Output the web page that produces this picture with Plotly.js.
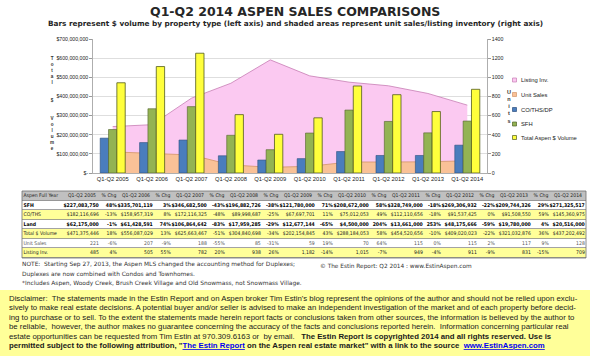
<!DOCTYPE html>
<html><head><meta charset="utf-8">
<script src="https://cdn.plot.ly/plotly-3.0.1.min.js"></script>
<style>html,body{margin:0;padding:0;background:#fff}#chart{width:590px;height:356px}</style>
</head><body><div id="chart"></div>
<script>
const categories = ['Q1-Q2 2005','Q1-Q2 2006','Q1-Q2 2007','Q1-Q2 2008','Q1-Q2 2009','Q1-Q2 2010','Q1-Q2 2011','Q1-Q2 2012','Q1-Q2 2013','Q1-Q2 2014'];
const sfh = [227083750, 335701119, 346682500, 196882726, 121780000, 208672000, 328749000, 269306932, 209744326, 271325517];
const coths = [182116696, 158957319, 172116325, 89998687, 67697701, 75012053, 112110656, 91537425, 91508550, 145360975];
const land = [62175000, 61428591, 106864642, 17959285, 12677144, 4500000, 13661000, 48175666, 19780000, 20516000];
const totalVol = [471375446, 556087029, 625663467, 304840698, 202154845, 288184053, 454520656, 409020023, 321032876, 437202492];
const unitSales = [221, 207, 188, 85, 59, 70, 115, 115, 117, 128];
const listingInv = [485, 505, 782, 938, 1182, 1015, 949, 911, 831, 709];
const sfhChg = ['48%','3%','-43%','-38%','71%','58%','-18%','-22%','29%'];
const cothsChg = ['-13%','8%','-48%','-25%','11%','49%','-18%','0%','59%'];
const landChg = ['-1%','74%','-83%','-29%','-65%','204%','253%','-59%','4%'];
const totalChg = ['18%','13%','-51%','-34%','43%','58%','-10%','-22%','36%'];
const unitChg = ['-6%','-9%','-55%','-31%','19%','64%','0%','2%','9%'];
const listChg = ['4%','55%','20%','26%','-14%','-7%','-4%','-9%','-15%'];
const rowLabels = ['SFH','CO/THS','Land','Total $ Volume','Unit Sales','Listing Inv.'];
const tableCorner = 'Aspen Full Year';
const chgHeader = '% Chg';
const leftTickVals = [0,100e6,200e6,300e6,400e6,500e6,600e6,700e6];
const leftTickText = ['$-','$100,000,000','$200,000,000','$300,000,000','$400,000,000','$500,000,000','$600,000,000','$700,000,000'];
const rightTickVals = [0,200,400,600,800,1000,1200,1400];
const legendLabels = ['Listing Inv.','Unit Sales','CO/THS/DP','SFH','Total Aspen $ Volume'];

const W = 590, H = 356;
const px = x => x / W, py = y => 1 - y / H;
const money = v => '$' + v.toLocaleString('en-US');
const num = v => v.toLocaleString('en-US');

const C = {
  pink: '#fbc9f1', pinkLine: '#c77db4',
  peach: '#f9c197', peachLine: '#d39468',
  blue: '#4a7dbd', blueLine: '#2b4f7e',
  green: '#93b353', greenLine: '#4f6228',
  yellow: '#ffff3c', yellowLine: '#505a1c'
};

const traces = [
  {type:'scatter', x:categories, y:listingInv, name:'Listing Inv.', mode:'lines', fill:'tozeroy',
   fillcolor:C.pink, line:{color:C.pinkLine, width:0.8}, xaxis:'x', yaxis:'y', hoverinfo:'skip'},
  {type:'scatter', x:categories, y:unitSales, name:'Unit Sales', mode:'lines', fill:'tozeroy',
   fillcolor:C.peach, line:{color:C.peachLine, width:0.8}, xaxis:'x', yaxis:'y', hoverinfo:'skip'},
  {type:'bar', x:categories, y:coths, name:'CO/THS/DP', marker:{color:C.blue, line:{color:C.blueLine, width:0.6}}, xaxis:'x', yaxis:'y2'},
  {type:'bar', x:categories, y:sfh, name:'SFH', marker:{color:C.green, line:{color:C.greenLine, width:0.6}}, xaxis:'x', yaxis:'y2'},
  {type:'bar', x:categories, y:totalVol, name:'Total Aspen $ Volume', marker:{color:C.yellow, line:{color:C.yellowLine, width:0.8}}, xaxis:'x', yaxis:'y2'}
];

// ---------- table (heatmap fills + text scatter on its own axes) ----------
const header = [tableCorner];
const cols = [rowLabels];
const widths = [42];
const kinds = ['label'];
for (let i = 0; i < categories.length; i++) {
  header.push(categories[i]);
  cols.push([money(sfh[i]), money(coths[i]), money(land[i]), money(totalVol[i]), num(unitSales[i]), num(listingInv[i])]);
  widths.push(36); kinds.push('val');
  if (i < categories.length - 1) {
    header.push(chgHeader);
    cols.push([sfhChg[i], cothsChg[i], landChg[i], totalChg[i], unitChg[i], listChg[i]]);
    widths.push(18); kinds.push('chg');
  }
}
const edges = [0];
widths.forEach(w => edges.push(edges[edges.length-1] + w));
const tableW = edges[edges.length-1];
const rowKind = [0, 1, 2, 1, 2, 1, 2]; // 0 header gray, 1 white, 2 yellow
const zFill = rowKind.map(k => widths.map(() => k));
traces.push({type:'heatmap', x:edges, y:[0,1,2,3,4,5,6,7], z:zFill, xaxis:'x2', yaxis:'y3',
  colorscale:[[0,'#c0c0c0'],[0.5,'#ffffff'],[1,'#ffff99']], zmin:0, zmax:2, showscale:false,
  ygap:0.8, xgap:0, hoverinfo:'skip'});
const tx = [], ty = [], tt = [], tp = [], tc = [];
const rowColor = ['#000','#222','#000','#222','#555','#222'];
const boldRow = [true,false,true,false,false,false];
header.forEach((h,j)=>{
  tx.push(j===0 ? edges[j]+1.5 : (edges[j]+edges[j+1])/2); ty.push(0.5);
  tt.push(h); tp.push(j===0 ? 'middle right' : 'middle center'); tc.push('#222');
});
cols.forEach((col,j)=>{
  col.forEach((v,r)=>{
    const left = kinds[j]==='label';
    tx.push(left ? edges[j]+1.5 : edges[j+1]-1.2); ty.push(r+1.5);
    tt.push(boldRow[r] ? '<b>'+v+'</b>' : v); tp.push(left ? 'middle right' : 'middle left'); tc.push(rowColor[r]);
  });
});
traces.push({type:'scatter', mode:'text', x:tx, y:ty, text:tt, textposition:tp, xaxis:'x2', yaxis:'y3',
  textfont:{family:"'Liberation Sans Narrow','DejaVu Sans Condensed','Liberation Sans',sans-serif", size:5.1, color:tc},
  hoverinfo:'skip', cliponaxis:false});

// ---------- annotations ----------
const baseFont = "'Liberation Sans', Arial, sans-serif";
const dvs = "'DejaVu Sans', Verdana, sans-serif";
const ann = [];
const A = (text, x, y, size, opts) => ann.push(Object.assign({text, x:px(x), y:py(y), xref:'paper', yref:'paper',
  showarrow:false, xanchor:'left', yanchor:'middle', font:{family:baseFont, size, color:'#222'}}, opts||{}));
A('<b>Q1-Q2 2014 ASPEN SALES COMPARISONS</b>', 295, 12, 12.5, {xanchor:'center', font:{family:dvs, size:12.5, color:'#262626'}});
A('<b>Bars represent $ volume by property type (left axis) and shaded areas represent unit sales/listing inventory (right axis)</b>',
  295, 23.5, 7.3, {xanchor:'center', font:{family:dvs, size:7.3, color:'#262626'}});
A('<b>T<br>o<br>t<br>a<br>l<br>\u00a0<br>\u00a0<br>$<br>\u00a0<br>\u00a0<br>V<br>o<br>l<br>u<br>m<br>e</b>', 52, 103.5, 4.6,
  {xanchor:'center', font:{family:baseFont, size:4.6, color:'#333'}});
A('<b>U<br>n<br>i<br>t<br>s</b>', 509, 106.5, 5.5, {xanchor:'center', font:{family:baseFont, size:5.5, color:'#333'}});

const legY = [80, 94.5, 109.5, 124, 137.5];
const legFill = [C.pink, C.peach, C.blue, C.green, C.yellow];
const legLine = [C.pinkLine, C.peachLine, C.blueLine, C.greenLine, C.yellowLine];
const shapes = [];
legendLabels.forEach((t,i)=>{
  A(t, 519, legY[i], 5.8);
  shapes.push({type:'rect', xref:'paper', yref:'paper', x0:px(512.5), x1:px(516.5), y0:py(legY[i]+2), y1:py(legY[i]-2),
    fillcolor:legFill[i], line:{color:legLine[i], width:0.7}});
});
shapes.push({type:'rect', xref:'x2 domain', yref:'y3 domain', x0:0, x1:1, y0:0, y1:1, fillcolor:'#8c8c8c', line:{width:0}, layer:'below'});
shapes.push({type:'rect', xref:'x2 domain', yref:'y3 domain', x0:0, x1:1, y0:0, y1:1, fillcolor:'rgba(0,0,0,0)', line:{color:'#6f6f6f', width:0.8}});

const noteLines = ['NOTE:  Starting Sep 27, 2013, the Aspen MLS changed the accounting method for Duplexes;',
  'Duplexes are now combined with Condos and Townhomes.',
  '*Includes Aspen, Woody Creek, Brush Creek Village and Old Snowmass, not Snowmass Village.'];
const noteY = [264.5, 274, 283.5];
noteLines.forEach((t,i)=> A(t, 20, noteY[i], 5.9, {font:{family:dvs, size:5.9, color:'#333'}}));
A('\u00a9 The Estin Report: Q2 2014 : www.EstinAspen.com', 318, 266.5, 5.8, {font:{family:dvs, size:5.8, color:'#333'}});
shapes.push({type:'rect', xref:'paper', yref:'paper', x0:0, x1:1, y0:0, y1:py(290), fillcolor:'#ffff99', line:{width:0}, layer:'below'});
const link = s => '<span style="color:#0000ee"><u>' + s + '</u></span>';
const discLines = [
  'Disclaimer:  The statements made in the Estin Report and on Aspen broker Tim Estin\'s blog represent the opinions of the author and should not be relied upon exclu-',
  'sively to make real estate decisions. A potential buyer and/or seller is advised to make an independent investigation of the market and of each property before decid-',
  'ing to purchase or to sell. To the extent the statements made herein report facts or conclusions taken from other sources, the information is believed by the author to',
  'be reliable,  however, the author makes no guarantee concerning the accuracy of the facts and conclusions reported herein.  Information concerning particular real',
  'estate opportunities can be requested from Tim Estin at 970.309.6163 or  by email.   <b>The Estin Report is copyrighted 2014 and all rights reserved. Use is</b>',
  '<b>permitted subject to the following attribution, "' + link('The Estin Report') + ' on the Aspen real estate market" with a link to the source  ' + link('www.EstinAspen.com') + '</b>'
];
const discY = [298, 307.7, 317.3, 326.8, 336.3, 345.9];
discLines.forEach((t,i)=> A(t, 7, discY[i], 7.8, {font:{family:baseFont, size:7.8, color:'#1a1a1a'}}));

const layout = {
  width: W, height: H, margin:{l:0, r:0, t:0, b:0}, paper_bgcolor:'#fff', plot_bgcolor:'rgba(0,0,0,0)',
  showlegend:false, barmode:'group', bargap:0.365, bargroupgap:0,
  font:{family:baseFont, color:'#333'},
  xaxis:{type:'category', domain:[px(93), px(487)], anchor:'y', showline:true, linecolor:'#9a9a9a', linewidth:0.8,
    ticks:'', tickfont:{size:5.8, color:'#222'}, showgrid:false, zeroline:false},
  yaxis:{domain:[py(173), py(39)], side:'right', anchor:'x', range:[0,1400], tickvals:rightTickVals,
    showgrid:true, gridcolor:'#d6d6d6', gridwidth:0.8, showline:true, linecolor:'#9a9a9a', linewidth:0.8,
    ticks:'outside', ticklen:3, tickcolor:'#9a9a9a', tickfont:{size:5.2, color:'#222'}, zeroline:false},
  yaxis2:{overlaying:'y', side:'left', anchor:'x', range:[0,700e6], tickvals:leftTickVals, ticktext:leftTickText,
    showgrid:false, showline:true, linecolor:'#9a9a9a', linewidth:0.8, ticks:'outside', ticklen:3, tickcolor:'#9a9a9a',
    tickfont:{size:5.2, color:'#222'}, zeroline:false},
  xaxis2:{domain:[px(22), px(22+tableW)], anchor:'y3', range:[0, tableW], visible:false, fixedrange:true},
  yaxis3:{domain:[py(258), py(191)], anchor:'x2', range:[7, 0], visible:false, fixedrange:true},
  annotations: ann, shapes: shapes
};
Plotly.newPlot('chart', traces, layout, {staticPlot:true, displayModeBar:false});
</script></body></html>
